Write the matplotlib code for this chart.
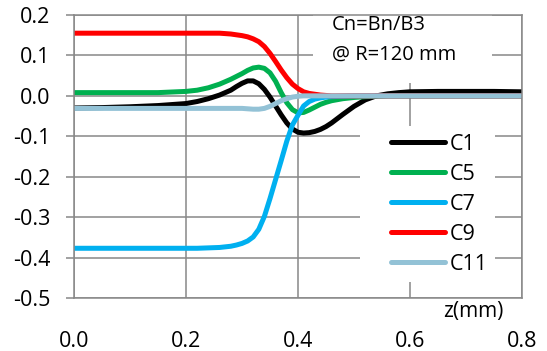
import matplotlib
matplotlib.use('Agg')
import matplotlib.pyplot as plt
from matplotlib.patches import Rectangle

plt.rcParams['font.family'] = ['Open Sans', 'DejaVu Sans']

# z positions (mm), shared by all series
z = [0.0, 0.05, 0.1, 0.15, 0.2, 0.22, 0.24, 0.26, 0.28, 0.29, 0.30, 0.31, 0.32,
     0.33, 0.34, 0.35, 0.36, 0.37, 0.38, 0.39, 0.40, 0.41, 0.42, 0.43, 0.44,
     0.45, 0.46, 0.48, 0.50, 0.52, 0.54, 0.56, 0.58, 0.60, 0.65, 0.70, 0.75, 0.80]

c1 = [-0.030, -0.029, -0.027, -0.024, -0.019, -0.014, -0.007, 0.002, 0.014, 0.023,
      0.031, 0.037, 0.037, 0.030, 0.016, -0.003, -0.025, -0.047, -0.067, -0.082,
      -0.090, -0.092, -0.091, -0.088, -0.083, -0.076, -0.067, -0.046, -0.026,
      -0.010, 0.000, 0.005, 0.008, 0.010, 0.011, 0.011, 0.011, 0.010]
c5 = [0.008, 0.008, 0.008, 0.008, 0.011, 0.014, 0.020, 0.029, 0.041, 0.048,
      0.055, 0.063, 0.069, 0.071, 0.068, 0.057, 0.036, 0.008, -0.017, -0.034,
      -0.042, -0.041, -0.035, -0.028, -0.021, -0.016, -0.012, -0.007, -0.004,
      -0.002, -0.001, 0.0, 0.0, 0.0, 0.0, 0.0, 0.0, 0.0]
c7 = [-0.377, -0.377, -0.377, -0.377, -0.377, -0.377, -0.376, -0.375, -0.372, -0.369,
      -0.365, -0.359, -0.349, -0.330, -0.298, -0.254, -0.207, -0.160, -0.112, -0.072,
      -0.048, -0.025, -0.014, -0.008, -0.005, -0.003, -0.002, -0.001, 0.0,
      0.0, 0.0, 0.0, 0.0, 0.0, 0.0, 0.0, 0.0, 0.0]
c9 = [0.155, 0.155, 0.155, 0.155, 0.155, 0.155, 0.155, 0.155, 0.153, 0.151,
      0.149, 0.146, 0.141, 0.134, 0.122, 0.105, 0.085, 0.064, 0.045, 0.029,
      0.018, 0.010, 0.006, 0.004, 0.002, 0.001, 0.0, 0.0, 0.0,
      0.0, 0.0, 0.0, 0.0, 0.0, 0.0, 0.0, 0.0, 0.0]
c11 = [-0.031, -0.031, -0.031, -0.031, -0.031, -0.031, -0.031, -0.031, -0.031, -0.031,
       -0.031, -0.032, -0.033, -0.033, -0.031, -0.026, -0.019, -0.012, -0.007, -0.003,
       -0.001, 0.0, 0.0, 0.0, 0.0, 0.0, 0.0, 0.0, 0.0,
       0.0, 0.0, 0.0, 0.0, 0.0, 0.0, 0.0, 0.0, 0.0]

series = [('C1', c1, '#000000'), ('C5', c5, '#00B050'), ('C7', c7, '#00B0F0'),
          ('C9', c9, '#FF0000'), ('C11', c11, '#93C2D6')]

fig = plt.figure(figsize=(5.47, 3.51), dpi=100)
ax = fig.add_axes([74 / 547, 1 - 298 / 351, 448 / 547, 283 / 351])

for name, vals, col in series:
    ax.plot(z, vals, color=col, lw=3.6, label=name, solid_capstyle='round')

ax.set_xlim(0, 0.8)
ax.set_ylim(-0.5, 0.2)
ax.set_xticks([0.0, 0.2, 0.4, 0.6, 0.8])
ax.set_yticks([-0.5, -0.4, -0.3, -0.2, -0.1, 0.0, 0.1, 0.2])
ax.xaxis.set_major_formatter(matplotlib.ticker.FormatStrFormatter('%.1f'))
ax.yaxis.set_major_formatter(matplotlib.ticker.FormatStrFormatter('%.1f'))
ax.grid(True, color='#888888', lw=1.1)
ax.set_axisbelow(True)
for s in ax.spines.values():
    s.set_color('#888888')
    s.set_linewidth(1.1)
ax.tick_params(axis='y', length=6, width=1.1, color='#888888', pad=11, labelsize=15.5)
ax.tick_params(axis='x', length=0, pad=24, labelsize=15.5)

# white box behind the annotation, hides the gridlines like the original
ax.add_patch(Rectangle((313 / 547, 1 - 83 / 351), 179 / 547, 68 / 351,
                       transform=fig.transFigure, facecolor='white',
                       edgecolor='none', zorder=1.5))
ax.text(332 / 547, 1 - 25 / 351, 'Cn=Bn/B3', transform=fig.transFigure,
        fontsize=14.5, va='center', ha='left', zorder=5)
ax.text(332 / 547, 1 - 55 / 351, '@ R=120 mm', transform=fig.transFigure,
        fontsize=14.5, va='center', ha='left', zorder=5)

leg = ax.legend(loc='upper left', bbox_to_anchor=(383 / 547, 1 - 126 / 351),
                bbox_transform=fig.transFigure, frameon=True, fancybox=False,
                facecolor='white', edgecolor='none', framealpha=1,
                fontsize=15.5, handlelength=2.55, handletextpad=0.2,
                labelspacing=0.42, borderpad=0.35, borderaxespad=0)
ax.add_patch(Rectangle((360 / 547, 1 - 283 / 351), 30 / 547, 156 / 351,
                       transform=fig.transFigure, facecolor='white',
                       edgecolor='none', zorder=1.5))

fig.text(473 / 547, 1 - 312 / 351, 'z(mm)', fontsize=15, ha='center', va='center')

fig.savefig('out.png', dpi=100)
